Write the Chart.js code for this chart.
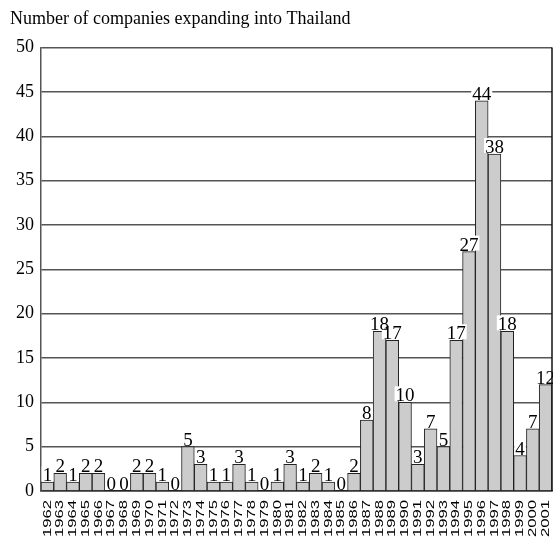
<!DOCTYPE html>
<html>
<head>
<meta charset="utf-8">
<script src="https://cdn.jsdelivr.net/npm/chart.js@4/dist/chart.umd.min.js"></script>
<style>
  html, body { margin: 0; padding: 0; background: #fff; }
  #wrap { width: 553px; height: 539px; position: relative; }
</style>
</head>
<body>
<div id="wrap"><canvas id="c" width="553" height="539"></canvas></div>
<script>
// Years and number of companies entering Thailand each year
const years = ['1962','1963','1964','1965','1966','1967','1968','1969','1970','1971',
               '1972','1973','1974','1975','1976','1977','1978','1979','1980','1981',
               '1982','1983','1984','1985','1986','1987','1988','1989','1990','1991',
               '1992','1993','1994','1995','1996','1997','1998','1999','2000','2001'];
const companies = [1,2,1,2,2,0,0,2,2,1,
                   0,5,3,1,1,3,1,0,1,3,
                   1,2,1,0,2,8,18,17,10,3,
                   7,5,17,27,44,38,18,4,7,12];
const yMin = 0, yMax = 50, yStep = 5;
const titleText = 'Number of companies expanding into Thailand';

const SERIF = "'Liberation Serif', 'Times New Roman', serif";
const SANS = "'Liberation Sans', Arial, sans-serif";

// Value labels on a white box just above each bar
const valueLabels = {
  id: 'valueLabels',
  afterDatasetsDraw(chart) {
    const ctx = chart.ctx;
    const meta = chart.getDatasetMeta(0);
    const data = chart.data.datasets[0].data;
    ctx.save();
    ctx.font = '19px ' + SERIF;
    ctx.textAlign = 'center';
    ctx.textBaseline = 'alphabetic';
    // boxes first so no label hides its neighbour's text
    ctx.fillStyle = '#fff';
    meta.data.forEach((bar, i) => {
      const w = ctx.measureText(String(data[i])).width;
      ctx.fillRect(bar.x - w / 2 - 1, bar.y - 16, w + 2, 15);
    });
    ctx.fillStyle = '#000';
    meta.data.forEach((bar, i) => {
      ctx.fillText(String(data[i]), bar.x, bar.y - 1);
    });
    ctx.restore();
  }
};

// Vertical year labels, reading upwards, plus the right frame line
const yearLabels = {
  id: 'yearLabels',
  afterDraw(chart) {
    const ctx = chart.ctx;
    const xs = chart.scales.x;
    const area = chart.chartArea;
    ctx.save();
    ctx.strokeStyle = '#111';
    ctx.lineWidth = 1.5;
    ctx.beginPath();
    ctx.moveTo(area.right, area.top);
    ctx.lineTo(area.right, area.bottom);
    ctx.stroke();

    ctx.fillStyle = '#000';
    ctx.font = '11.5px ' + SANS;
    ctx.textAlign = 'right';
    ctx.textBaseline = 'middle';
    chart.data.labels.forEach((lab, i) => {
      const x = xs.getPixelForValue(i);
      ctx.save();
      ctx.translate(x, area.bottom + 9);
      ctx.rotate(-Math.PI / 2);
      ctx.scale(1.45, 1);
      ctx.fillText(lab, 0, 0);
      ctx.restore();
    });
    ctx.restore();
  }
};

new Chart(document.getElementById('c'), {
  type: 'bar',
  data: {
    labels: years,
    datasets: [{
      data: companies,
      backgroundColor: '#cccccc',
      borderColor: '#222',
      borderWidth: 1,
      categoryPercentage: 1.0,
      barPercentage: 1.0
    }]
  },
  options: {
    responsive: false,
    animation: false,
    devicePixelRatio: 1,
    layout: { padding: { left: 10, right: 1, top: 0, bottom: 40 } },
    plugins: {
      legend: { display: false },
      tooltip: { enabled: false },
      title: {
        display: true,
        text: titleText,
        align: 'start',
        color: '#000',
        font: { family: SERIF, size: 18, weight: 'normal' },
        padding: { top: 8, bottom: 18 }
      }
    },
    scales: {
      x: {
        grid: { display: false },
        border: { display: true, color: '#222', width: 1.5 },
        ticks: { display: false }
      },
      y: {
        min: yMin,
        max: yMax,
        ticks: {
          stepSize: yStep,
          color: '#000',
          font: { family: SERIF, size: 18 },
          padding: 7
        },
        grid: { color: '#555', lineWidth: 1.5, drawTicks: false },
        border: { display: true, color: '#555', width: 1.5 },
        afterFit(scale) { scale.width = 31; }
      }
    }
  },
  plugins: [valueLabels, yearLabels]
});
</script>
</body>
</html>
